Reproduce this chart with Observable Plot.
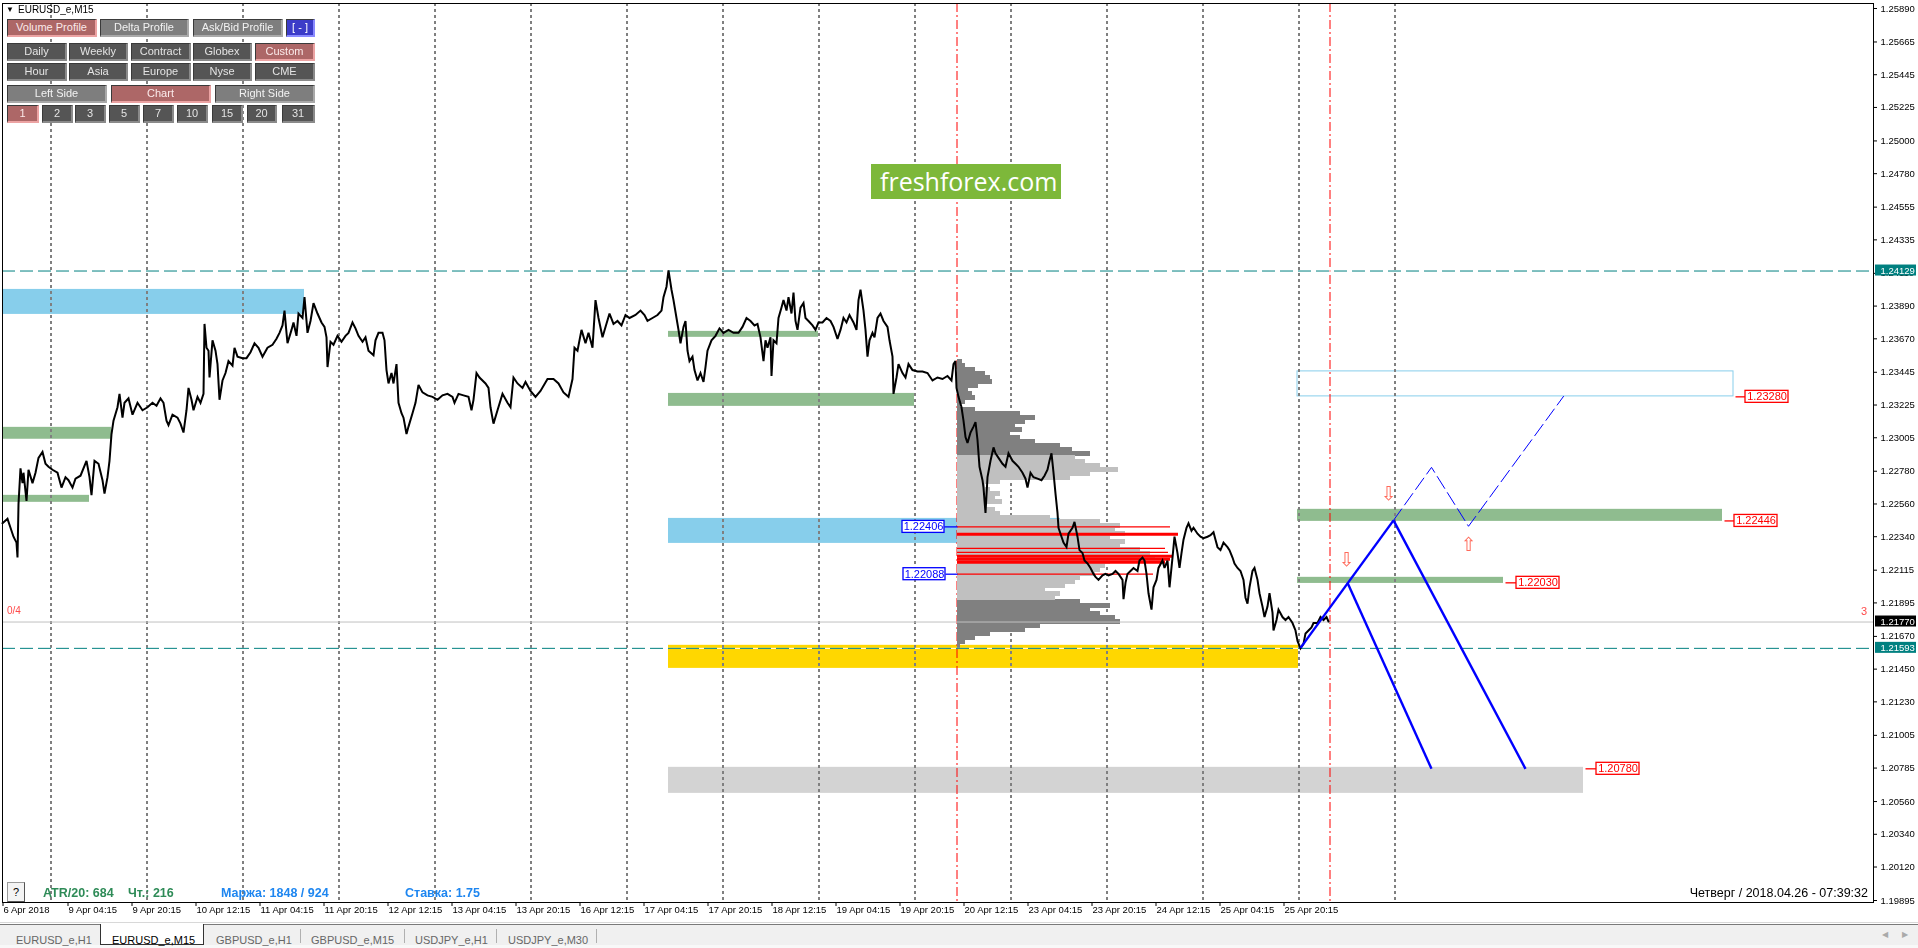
<!DOCTYPE html>
<html><head><meta charset="utf-8">
<script src="https://cdn.jsdelivr.net/npm/d3@7"></script>
<script src="https://cdn.jsdelivr.net/npm/@observablehq/plot@0.6"></script>
<style>
body{margin:0;background:#fff;}
#wrap{position:relative;width:1918px;height:948px;overflow:hidden;background:#fff;font-family:"Liberation Sans",Arial,sans-serif;}
#chart{position:absolute;left:0;top:0;}
.btn{position:absolute;box-sizing:border-box;height:18px;line-height:15px;font-size:11px;text-align:center;color:#e4e4e4;border-top:1px solid #3a3a3a;border-left:1px solid #3a3a3a;border-right:2px solid #8a8a8a;border-bottom:2px solid #8a8a8a;white-space:nowrap;}
.dk{background:#555;}
.md{background:#7e7e7e;border-right-color:#a9a9a9;border-bottom-color:#a9a9a9;color:#f2f2f2;}
.rs{background:#ad6767;border-right-color:#eca3a3;border-bottom-color:#eca3a3;color:#fbeaea;}
.bl{background:#3c3cc8;border-right-color:#8a8aff;border-bottom-color:#8a8aff;color:#fff;}
.abs{position:absolute;white-space:nowrap;}
.tab{position:absolute;top:933px;font-size:11px;color:#666;line-height:14px;}
.sep{position:absolute;top:929px;width:1px;height:14px;background:#b0b0b0;}
</style></head>
<body><div id="wrap"><div id="chart"></div></div>
<script>
// ---------------- DATA ----------------
// price path: [bar index (M15 bars from 6 Apr 12:00), price]
const pricePath = [[0,1.2243],[5,1.2246],[8,1.2240],[11,1.2234],[14,1.2230],[15,1.2220],[16,1.2256],[18,1.2280],[20,1.2270],[21,1.2277],[24,1.2258],[26,1.2279],[30,1.2270],[33,1.2277],[36,1.2287],[40,1.2291],[43,1.2283],[46,1.2281],[50,1.2279],[55,1.2277],[59,1.2267],[63,1.2274],[66,1.2272],[70,1.2267],[73,1.2273],[78,1.2275],[84,1.2285],[87,1.2274],[89,1.2262],[92,1.2285],[96,1.2283],[100,1.2272],[102,1.2263],[105,1.2274],[107,1.2285],[109,1.2303],[111,1.2312],[115,1.2321],[117,1.2330],[120,1.2314],[122,1.2324],[126,1.2327],[130,1.2316],[135,1.2324],[140,1.2319],[145,1.2321],[150,1.2324],[154,1.2322],[158,1.2327],[161,1.2324],[164,1.2312],[166,1.2309],[170,1.2316],[175,1.2314],[178,1.2310],[181,1.2304],[184,1.2319],[186,1.2334],[189,1.2326],[191,1.2319],[195,1.2328],[198,1.2324],[201,1.2330],[202,1.2377],[204,1.2361],[206,1.2359],[207,1.2341],[210,1.2366],[213,1.2359],[215,1.2350],[217,1.2326],[220,1.2339],[223,1.2344],[226,1.2352],[230,1.2349],[232,1.2361],[235,1.2355],[240,1.2354],[244,1.2354],[248,1.2358],[252,1.2364],[256,1.2361],[260,1.2355],[265,1.2361],[270,1.2363],[274,1.2367],[277,1.2371],[280,1.2376],[282,1.2386],[284,1.2371],[285,1.2364],[289,1.2373],[291,1.2378],[294,1.2369],[296,1.2384],[300,1.2381],[302,1.2395],[305,1.2371],[308,1.2379],[311,1.2391],[315,1.2384],[319,1.2378],[322,1.2375],[324,1.2368],[325,1.2348],[328,1.2365],[331,1.2363],[335,1.2369],[339,1.2365],[343,1.2369],[346,1.2371],[350,1.2378],[353,1.2374],[356,1.2369],[360,1.2365],[363,1.2368],[366,1.2359],[371,1.2356],[373,1.2366],[376,1.2371],[380,1.2371],[382,1.2366],[384,1.2346],[386,1.2337],[389,1.2344],[391,1.2337],[394,1.2350],[396,1.2324],[399,1.2317],[401,1.2314],[404,1.2303],[406,1.2308],[410,1.2317],[413,1.2324],[416,1.2336],[420,1.2331],[425,1.2329],[430,1.2328],[435,1.2326],[440,1.2329],[445,1.2330],[450,1.2328],[452,1.2324],[456,1.2330],[461,1.2329],[466,1.2328],[469,1.2319],[471,1.2326],[474,1.2344],[477,1.2341],
[483,1.2337],[486,1.2334],[488,1.2321],[491,1.2310],[495,1.2319],[500,1.2330],[505,1.2324],[508,1.2321],[511,1.2341],[515,1.2337],[520,1.2334],[523,1.2338],[528,1.2332],[533,1.2328],[538,1.2332],[545,1.2340],[551,1.2340],[556,1.2337],[561,1.2331],[566,1.2328],[570,1.2340],[572,1.2361],[575,1.2359],[579,1.2373],[583,1.2364],[586,1.2371],[590,1.2361],[593,1.2393],[596,1.2381],[600,1.2368],[603,1.2375],[607,1.2384],[611,1.2377],[615,1.2379],[619,1.2376],[623,1.2383],[627,1.2381],[633,1.2383],[638,1.2386],[642,1.2383],[645,1.2379],[650,1.2381],[655,1.2383],[659,1.2386],[661,1.2395],[664,1.2402],[666,1.2413],[669,1.2400],[671,1.2393],[674,1.2381],[676,1.2373],[678,1.2364],[681,1.2375],[683,1.2379],[685,1.2359],[687,1.2352],[690,1.2355],[692,1.2346],[695,1.2339],[698,1.2344],[701,1.2338],[703,1.2348],[705,1.2359],[709,1.2366],[713,1.2369],[717,1.2374],[721,1.2371],[726,1.2373],[731,1.2371],[736,1.2371],[740,1.2375],[744,1.2381],[748,1.2379],[752,1.2376],[755,1.2377],[758,1.2368],[761,1.2352],[763,1.2366],[765,1.2361],[768,1.2368],[769,1.2342],[771,1.2366],[774,1.2364],[776,1.2381],[779,1.2388],[781,1.2393],[784,1.2386],[786,1.2395],[789,1.2384],[791,1.2398],[793,1.2379],[795,1.2373],[798,1.2388],[801,1.2391],[803,1.2381],[806,1.2379],[810,1.2376],[813,1.2373],[816,1.2378],[820,1.2378],[824,1.2381],[828,1.2379],[831,1.2375],[835,1.2367],[838,1.2373],[841,1.2381],[844,1.2378],[847,1.2383],[851,1.2378],[854,1.2373],[856,1.2393],[858,1.2400],[861,1.2386],[863,1.2373],[865,1.2355],[867,1.2366],[870,1.2371],[872,1.2368],[875,1.2381],[878,1.2384],[881,1.2379],[885,1.2375],[887,1.2366],[890,1.2355],[891,1.2330],[894,1.2341],[896,1.2350],[900,1.2344],[903,1.2341],[906,1.2350],[910,1.2346],[915,1.2345],[920,1.2345],[925,1.2344],[930,1.2339],[935,1.2341],[940,1.2340],[945,1.2342],[949,1.2339],[951,1.2350],[953,1.2352],
[954,1.2334],[956,1.2328],[959,1.2321],[961,1.2312],[963,1.2301],[965,1.2297],[968,1.2304],[971,1.2308],[973,1.2311],[975,1.2299],[977,1.2281],[980,1.2272],[981,1.2267],[983,1.2250],[985,1.2274],[988,1.2285],[991,1.2294],[993,1.2290],[996,1.2287],[1000,1.2283],[1003,1.2281],[1006,1.2290],[1010,1.2285],[1013,1.2283],[1016,1.2281],[1020,1.2277],[1023,1.2273],[1025,1.2267],[1028,1.2277],[1031,1.2274],[1035,1.2273],[1039,1.2272],[1042,1.2275],[1045,1.2279],[1047,1.2285],[1049,1.2290],[1051,1.2277],[1053,1.2263],[1055,1.2250],[1056,1.2240],[1059,1.2234],[1061,1.2230],[1064,1.2227],[1066,1.2236],[1070,1.2240],[1072,1.2244],[1075,1.2234],[1077,1.2225],[1080,1.2223],[1082,1.2218],[1085,1.2216],[1088,1.2213],[1091,1.2209],[1093,1.2207],[1096,1.2205],[1100,1.2208],[1103,1.2209],[1106,1.2208],[1110,1.2209],[1113,1.2211],[1116,1.2209],[1120,1.2205],[1121,1.2192],[1123,1.2203],[1125,1.2209],[1128,1.2211],[1131,1.2213],[1135,1.2211],[1137,1.2218],[1140,1.2220],[1142,1.2218],[1144,1.2209],[1146,1.2196],[1149,1.2185],[1151,1.2200],[1154,1.2205],[1156,1.2213],[1160,1.2218],[1162,1.2213],[1165,1.2218],[1167,1.2200],[1170,1.2220],[1172,1.2234],[1175,1.2223],[1177,1.2213],[1179,1.2223],[1181,1.2232],[1184,1.2240],[1186,1.2243],[1189,1.2238],[1191,1.2240],[1195,1.2236],[1198,1.2234],[1201,1.2233],[1205,1.2234],[1208,1.2235],[1211,1.2237],[1213,1.2232],[1215,1.2227],[1218,1.2225],[1221,1.2230],[1225,1.2227],[1227,1.2225],[1230,1.2220],[1232,1.2216],[1235,1.2213],[1238,1.2211],[1241,1.2205],[1243,1.2193],[1245,1.2189],[1247,1.2200],[1250,1.2211],[1252,1.2213],[1255,1.2205],[1257,1.2196],[1260,1.2187],[1262,1.2180],[1265,1.2187],[1267,1.2196],[1270,1.2183],[1271,1.2171],[1274,1.2178],[1276,1.2185],[1280,1.2180],[1283,1.2178],[1286,1.2180],[1290,1.2176],[1293,1.2171],[1295,1.2164],[1298,1.2159],[1301,1.2162],[1303,1.2169],[1306,1.2171],[1309,1.2173],[1311,1.2176],[1315,1.2176],[1318,1.2180],[1321,1.2178],[1324,1.2180],[1326,1.2177]];

// zones: [fromBar, toBar, lowPrice, highPrice]
const blueZones   = [[0,302,1.23834,1.24002],[666,1058,1.22295,1.22463]];
const greenZones  = [[0,109,1.22995,1.23075],[0,87,1.22571,1.22618],[666,816,1.23680,1.23720],[666,912,1.23216,1.23303],[1295,1720,1.22443,1.22524],[1295,1501,1.22026,1.22067]];
const yellowZones = [[666,1296,1.21455,1.21610]];
const grayZones   = [[666,1581,1.20615,1.20790]];
const targetZones = [[1295,1731,1.23283,1.23451]];

// volume profile (custom range starting at bar 955)
const profileStart = 955;
const profileLevels = [1.23512,1.23485,1.23458,1.23431,1.23404,1.23377,1.23351,1.23324,1.23297,1.23270,1.23243,1.23216,1.23189,1.23162,1.23135,1.23109,1.23082,1.23055,1.23028,1.23001,1.22974,1.22947,1.22920,1.22894,1.22867,1.22840,1.22813,1.22786,1.22759,1.22732,1.22705,1.22679,1.22652,1.22625,1.22598,1.22571,1.22544,1.22517,1.22490,1.22464,1.22437,1.22410,1.22383,1.22356,1.22329,1.22302,1.22275,1.22248,1.22222,1.22195,1.22168,1.22141,1.22114,1.22087,1.22060,1.22033,1.22007,1.21980,1.21953,1.21926,1.21899,1.21872,1.21845,1.21818,1.21792,1.21765,1.21738,1.21711,1.21684,1.21657,1.21630,1.21603];
const profileVolume = [5,8,18,28,33,35,21,11,15,18,8,3,18,63,78,68,58,65,53,63,78,103,115,133,118,128,143,161,133,113,43,28,33,43,38,45,28,38,43,93,143,163,158,168,153,168,163,183,193,198,153,148,143,138,123,118,108,88,103,98,123,153,133,143,158,163,83,68,33,18,8,3];
const valueAreaHigh = 1.22880, valueAreaLow = 1.21912;
const hvnLevels = [1.22406,1.22356,1.22262,1.22235,1.22208,1.22188,1.22168,1.22088];
const hvnVolume = [213,221,208,211,215,213,208,196];
const hvnThick  = [false,true,false,false,true,true,true,false];

// horizontal levels
const highLow = [1.24129, 1.21593];
const lastPrice = 1.21770;
const profileLabels = [1.22406, 1.22088];
const targetLabels = [1.23280, 1.22446, 1.22030, 1.20780];

// forecast
const forecastSolid = [[1298,1.21593,1391,1.22450],[1345,1.22030,1429,1.20780],[1391,1.22450,1523,1.20780]];
const forecastDashed = [[1391,1.22450],[1429,1.22806],[1466,1.22410],[1561,1.23283]];
const arrowsDown = [[1386,1.22631],[1344,1.22181]];
const arrowsUp = [[1466,1.22282]];

// time axis
const daySeparators = [48,144,240,336,432,528,624,720,816,912,1008,1104,1200,1296,1392];
const profileBounds = [954,1327];
const timeTicks = [0,65,129,193,257,321,385,449,513,577,641,705,769,833,897,961,1025,1089,1153,1217,1281];
const timeLabels = ["6 Apr 2018","9 Apr 04:15","9 Apr 20:15","10 Apr 12:15","11 Apr 04:15","11 Apr 20:15","12 Apr 12:15","13 Apr 04:15","13 Apr 20:15","16 Apr 12:15","17 Apr 04:15","17 Apr 20:15","18 Apr 12:15","19 Apr 04:15","19 Apr 20:15","20 Apr 12:15","23 Apr 04:15","23 Apr 20:15","24 Apr 12:15","25 Apr 04:15","25 Apr 20:15"];
const priceTicks = [1.25890,1.25665,1.25445,1.25225,1.25000,1.24780,1.24555,1.24335,1.24110,1.23890,1.23670,1.23445,1.23225,1.23005,1.22780,1.22560,1.22340,1.22115,1.21895,1.21670,1.21450,1.21230,1.21005,1.20785,1.20560,1.20340,1.20120,1.19895];

// ---------------- LAYOUT ----------------
const Y0 = 1.25890, Y1 = 1.19895, pxPer = (900 - 8) / (Y0 - Y1);
const dp = px => px / pxPer;          // pixel height -> price units
const XMAX = 1871;
const step = 0.000269;
const fontF = "'Liberation Sans', Arial, sans-serif";

const prof = profileLevels.map((p, i) => ({p, v: profileVolume[i]}));
const hvn = hvnLevels.map((p, i) => ({p, v: hvnVolume[i], t: hvnThick[i]}));
const rectOpts = (fill) => ({x1: d => d[0], x2: d => d[1], y1: d => d[2], y2: d => d[3], fill});
const tgtLayout = [{left:1743,from:1733},{left:1732,from:1722},{left:1514,from:1503},{left:1594,from:1583}];
const profLayout = [{left:900,from:942},{left:901,from:943}];
const boxW = 43;
const rowOpts = (fill) => ({x1: profileStart, x2: d => profileStart + d.v, y1: d => d.p - step*0.62, y2: d => d.p + step*0.62, fill, shapeRendering: "crispEdges"});

const marks = [
  Plot.frame({fill: "white"}),
  Plot.rect(blueZones, rectOpts("#87ceeb")),
  Plot.rect(greenZones, rectOpts("#8fbc8f")),
  Plot.rect(yellowZones, rectOpts("#ffd700")),
  Plot.rect(grayZones, rectOpts("#d3d3d3")),
  Plot.rect(targetZones, {...rectOpts("none"), stroke: "#87ceeb", strokeWidth: 1}),
  Plot.ruleX(daySeparators, {x: d => d, stroke: "white", strokeDasharray: "3,3", dx: 0.5, mixBlendMode: "difference"}),
  Plot.ruleX(profileBounds, {x: d => d, stroke: "#ff0000", strokeDasharray: "9,3,2,3", dx: 0.5}),
  // volume profile
  Plot.rect(prof.filter(d => d.p > valueAreaHigh || d.p < valueAreaLow), rowOpts("#808080")),
  Plot.rect(prof.filter(d => d.p <= valueAreaHigh && d.p >= valueAreaLow), rowOpts("#c0c0c0")),
  Plot.ruleY(hvn.filter(d => !d.t), {y: "p", x1: profileStart, x2: d => profileStart + d.v, stroke: "#ff0000", strokeWidth: 1.2}),
  Plot.ruleY(hvn.filter(d => d.t), {y: "p", x1: profileStart, x2: d => profileStart + d.v, stroke: "#ff0000", strokeWidth: 3}),
  // horizontal lines
  Plot.ruleY([lastPrice], {y: d => d, stroke: "#c0c0c0", dy: 0.5}),
  Plot.ruleY(highLow, {y: d => d, stroke: "white", dy: 0.5}),
  Plot.ruleY(highLow, {y: d => d, stroke: "#008080", strokeDasharray: "13,5", dy: 0.5}),
  // price
  Plot.line(pricePath, {x: d => d[0], y: d => d[1], stroke: "black", strokeWidth: 2, strokeLinejoin: "miter", strokeMiterlimit: 3}),
  // forecast
  Plot.link(forecastSolid, {x1: d => d[0], y1: d => d[1], x2: d => d[2], y2: d => d[3], stroke: "#0000ff", strokeWidth: 2.4}),
  Plot.line(forecastDashed, {x: d => d[0], y: d => d[1], stroke: "#0000ff", strokeWidth: 1, strokeDasharray: "14,5"}),
  Plot.text(arrowsDown, {x: d => d[0], y: d => d[1], text: () => "⇩", fill: "#ff6a5a", fontSize: 19, fontFamily: "DejaVu Sans"}),
  Plot.text(arrowsUp, {x: d => d[0], y: d => d[1], text: () => "⇧", fill: "#ff6a5a", fontSize: 19, fontFamily: "DejaVu Sans"}),
  // target labels
  Plot.link(targetLabels, {x1: (d, i) => tgtLayout[i].from, x2: (d, i) => tgtLayout[i].left, y1: d => d, y2: d => d, stroke: "#ff0000", strokeWidth: 1.3}),
  Plot.rect(targetLabels, {x1: (d, i) => tgtLayout[i].left, x2: (d, i) => tgtLayout[i].left + boxW, y1: d => d - dp(6), y2: d => d + dp(6), fill: "white", stroke: "#ff0000", strokeWidth: 1.3}),
  Plot.text(targetLabels, {x: (d, i) => tgtLayout[i].left + boxW / 2, y: d => d, text: d => d.toFixed(5), fill: "#ff0000", fontSize: 11, fontFamily: fontF}),
  // profile labels
  Plot.link(profileLabels, {x1: (d, i) => profLayout[i].from, x2: profileStart, y1: d => d, y2: d => d, stroke: "#0000ff", strokeWidth: 1.3}),
  Plot.rect(profileLabels, {x1: (d, i) => profLayout[i].left, x2: (d, i) => profLayout[i].left + 42, y1: d => d - dp(6), y2: d => d + dp(6), fill: "white", stroke: "#0000ff", strokeWidth: 1.3}),
  Plot.text(profileLabels, {x: (d, i) => profLayout[i].left + 21, y: d => d, text: d => d.toFixed(5), fill: "#0000ff", fontSize: 11, fontFamily: fontF}),
  Plot.frame({stroke: "black"}),
  // price axis
  Plot.ruleY(priceTicks, {y: d => d, x1: XMAX, x2: XMAX + 4, stroke: "black"}),
  Plot.text(priceTicks, {y: d => d, frameAnchor: "right", textAnchor: "start", dx: 7, text: d => d.toFixed(5), fontSize: 9.5, fill: "black"}),
  Plot.rect(highLow, {x1: XMAX + 2, x2: XMAX + 43, y1: d => d - dp(5.5), y2: d => d + dp(5.5), fill: "#008080"}),
  Plot.rect([lastPrice], {x1: XMAX + 2, x2: XMAX + 43, y1: d => d - dp(5.5), y2: d => d + dp(5.5), fill: "black"}),
  Plot.text([...highLow, lastPrice], {y: d => d, frameAnchor: "right", textAnchor: "start", dx: 7, text: d => d.toFixed(5), fontSize: 9.5, fill: "white"}),
  // time axis
  Plot.ruleX(timeTicks, {x: d => d, y1: Y1 - dp(2), y2: Y1 - dp(6), stroke: "black", dx: 0.5}),
  Plot.text(timeTicks, {x: d => d, frameAnchor: "bottom", dy: 10, dx: 1, textAnchor: "start", text: (d, i) => timeLabels[i], fontSize: 9.5, fill: "black"})
];

const svg = Plot.plot({
  width: 1918, height: 922,
  marginLeft: 2, marginRight: 45, marginTop: 3, marginBottom: 20,
  x: {domain: [0, XMAX], axis: null},
  y: {domain: [Y1, Y0], range: [900, 8], axis: null},
  style: {background: "white", fontFamily: fontF, overflow: "visible"},
  marks
});
document.getElementById("chart").appendChild(svg);

// ---------------- HTML overlays ----------------
const wrap = document.getElementById("wrap");
function add(html){ wrap.insertAdjacentHTML("beforeend", html); }

const buttonRows = [
  {top:19, items:[["Volume Profile",7,97,"rs"],["Delta Profile",100,189,"md"],["Ask/Bid Profile",193,283,"md"],["[ - ]",286,315,"bl"]]},
  {top:43, items:[["Daily",7,67,"dk"],["Weekly",69,128,"dk"],["Contract",131,191,"dk"],["Globex",193,252,"dk"],["Custom",255,315,"rs"]]},
  {top:63, items:[["Hour",7,67,"dk"],["Asia",69,128,"dk"],["Europe",131,191,"dk"],["Nyse",193,252,"dk"],["CME",255,315,"dk"]]},
  {top:85, items:[["Left Side",7,107,"md"],["Chart",111,211,"rs"],["Right Side",215,315,"md"]]},
  {top:105, items:[["1",7,39,"rs"],["2",42,73,"dk"],["3",75,106,"dk"],["5",109,140,"dk"],["7",143,174,"dk"],["10",177,208,"dk"],["15",212,243,"dk"],["20",247,277,"dk"],["31",282,315,"dk"]]}
];
for (const row of buttonRows) for (const [t,a,b,c] of row.items)
  add(`<div class="btn ${c}" style="left:${a}px;top:${row.top}px;width:${b-a}px">${t}</div>`);

add(`<div class="abs" style="left:6px;top:4px;font-size:8px;line-height:12px">▼</div>`);
add(`<div class="abs" style="left:18px;top:4px;font-size:10px;line-height:12px;color:#000">EURUSD_e,M15</div>`);
add(`<div class="abs" style="left:871px;top:164px;width:190px;height:35px;background:#7db83a;color:#fff;font-family:'Open Sans',sans-serif;font-size:25px;line-height:34px;box-sizing:border-box;padding-left:9px">freshforex.com</div>`);
add(`<div class="abs" style="left:7px;top:605px;font-size:10px;color:#ff4a4a">0/4</div>`);
add(`<div class="abs" style="left:1861px;top:605px;font-size:11px;color:#ff4a4a">3</div>`);
add(`<div class="abs" style="left:7px;top:882px;width:18px;height:20px;box-sizing:border-box;border:1px solid #9a9a9a;border-right-color:#555;border-bottom-color:#555;background:#f4f4f4;font-size:11px;text-align:center;line-height:18px">?</div>`);
add(`<div class="abs" style="left:43px;top:885px;font-size:12.5px;font-weight:bold;color:#2e8b57;line-height:16px">ATR/20: 684</div>`);
add(`<div class="abs" style="left:128px;top:885px;font-size:12.5px;font-weight:bold;color:#2e8b57;line-height:16px">Чт.: 216</div>`);
add(`<div class="abs" style="left:221px;top:885px;font-size:12.5px;font-weight:bold;color:#1e86f0;line-height:16px">Маржа: 1848 / 924</div>`);
add(`<div class="abs" style="left:405px;top:885px;font-size:12.5px;font-weight:bold;color:#1e86f0;line-height:16px">Ставка: 1.75</div>`);
add(`<div class="abs" style="right:50px;top:885px;font-size:12.5px;color:#000;line-height:16px">Четверг / 2018.04.26 - 07:39:32</div>`);

// tab bar
add(`<div class="abs" style="left:0;top:922px;width:1918px;height:1px;background:#d8d8d8"></div>`);
add(`<div class="abs" style="left:0;top:924px;width:1918px;height:21px;background:#f0f0f0;border-top:1px solid #7a7a7a;box-sizing:border-box"></div>`);
add(`<div class="abs" style="left:0;top:945px;width:1918px;height:3px;background:#f8f8f8"></div>`);
add(`<div class="abs" style="left:100px;top:924px;width:104px;height:21px;background:#fff;border:1px solid #333;border-top:none;box-sizing:border-box"></div>`);
const tabs = [["EURUSD_e,H1",16,"#666"],["EURUSD_e,M15",112,"#000"],["GBPUSD_e,H1",216,"#666"],["GBPUSD_e,M15",311,"#666"],["USDJPY_e,H1",415,"#666"],["USDJPY_e,M30",508,"#666"]];
for (const [t,x,c] of tabs) add(`<div class="tab" style="left:${x}px;color:${c}">${t}</div>`);
for (const x of [300,404,496,596]) add(`<div class="sep" style="left:${x}px"></div>`);
add(`<div class="abs" style="left:1882px;top:930px;font-size:8px;color:#aaa">◀</div>`);
add(`<div class="abs" style="left:1902px;top:930px;font-size:8px;color:#aaa">▶</div>`);
</script>
</body></html>
